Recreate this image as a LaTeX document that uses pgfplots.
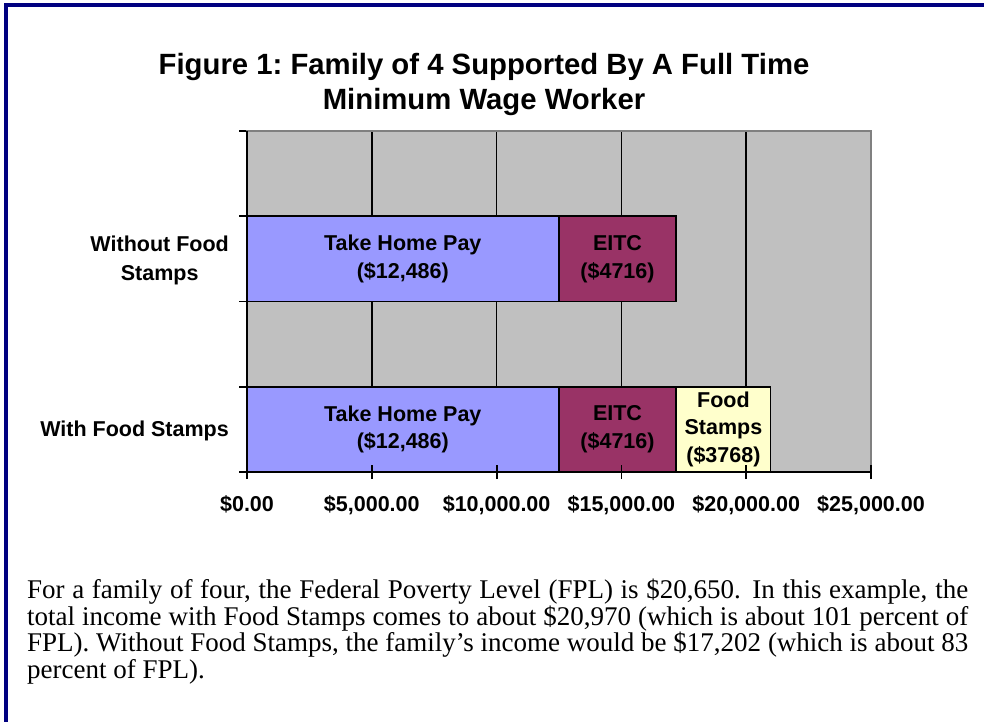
\documentclass[border=0pt]{standalone}
\usepackage{pgfplots}
\pgfplotsset{compat=1.18}
\usepackage{fontspec}
\setmainfont{Liberation Serif}
\newfontfamily\arial{Liberation Sans}
\definecolor{plotgray}{HTML}{C0C0C0}
\definecolor{bordergray}{HTML}{808080}
\definecolor{thp}{HTML}{9999FF}
\definecolor{eitc}{HTML}{993366}
\definecolor{fs}{HTML}{FFFFCC}
\definecolor{navyb}{HTML}{000080}
\begin{document}
\begin{tikzpicture}[x=1pt,y=1pt]
\path[use as bounding box] (0,0) rectangle (984,721);
\draw[navyb, line width=4pt] (5.7,-10) -- (5.7,715.7) -- (1000,715.7);
% title
\node[anchor=base, inner sep=0pt, font=\arial\bfseries\fontsize{29.3}{34}\selectfont\frenchspacing] at (484,721-75) {Figure 1: Family of 4 Supported By A Full Time};
\node[anchor=base, inner sep=0pt, font=\arial\bfseries\fontsize{29.3}{34}\selectfont] at (484,721-110) {Minimum Wage Worker};
% background axis: plot area, grid, category labels and boundary ticks
\begin{axis}[
  at={(247pt,249pt)}, anchor=south west, scale only axis,
  width=624pt, height=341pt,
  xmin=0, xmax=25000, ymin=-0.25, ymax=1.75,
  scaled x ticks=false, scaled y ticks=false,
  axis background/.style={fill=plotgray},
  axis line style={draw=bordergray, line width=1.8pt},
  xtick={5000,10000,15000,20000}, xmajorticks=false,
  ytick={0,1},
  yticklabels={With Food Stamps,{Without Food\\Stamps}},
  yticklabel style={font=\arial\bfseries\fontsize{21.5}{29}\selectfont, align=center, inner sep=0pt, anchor=east, xshift=-18pt, yshift=-2pt},
  minor ytick={-0.25,0.25,0.75,1.25,1.75},
  ytick pos=left, tick align=outside, major tick length=0pt, minor tick length=8pt,
  tick style={black, line width=1.8pt},
  xmajorgrids, grid style={black, line width=1.6pt},
]
\addplot[draw=none] coordinates {(0,0)};
\end{axis}
% foreground axis: bars
\begin{axis}[
  at={(247pt,249pt)}, anchor=south west, scale only axis,
  width=624pt, height=341pt,
  xmin=0, xmax=25000, ymin=-0.25, ymax=1.75,
  scaled x ticks=false,
  enlargelimits=false,
  xbar stacked, bar width=0.5,
  axis on top,
  axis x line*=bottom, axis y line*=left,
  axis line style={black, line width=1.8pt, -},
  tick style={black, line width=1.8pt},
  tick align=center, major tick length=14pt,
  xtick={0,5000,10000,15000,20000,25000},
  xticklabels={\$0.00,{\$5,000.00},{\$10,000.00},{\$15,000.00},{\$20,000.00},{\$25,000.00}},
  xticklabel style={font=\arial\bfseries\fontsize{21.5}{27}\selectfont, inner sep=0pt, anchor=base, yshift=-32pt},
  ytick=\empty,
]
\addplot[fill=thp, draw=black, line width=1.8pt] coordinates {(12486,0) (12486,1)};
\addplot[fill=eitc, draw=black, line width=1.8pt] coordinates {(4716,0) (4716,1)};
\addplot[fill=fs, draw=black, line width=1.8pt] coordinates {(3768,0)};
\end{axis}
% segment labels (centred in each segment)
\begin{scope}[every node/.style={font=\arial\bfseries\fontsize{21.5}{27.5}\selectfont, align=center, inner sep=0pt}]
\node at (402.8,462) {Take Home Pay\\(\$12,486)};
\node at (402.8,291.6) {Take Home Pay\\(\$12,486)};
\node at (617.5,462) {EITC\\(\$4716)};
\node at (617.5,291.6) {EITC\\(\$4716)};
\node at (723.4,291.6) {Food\\Stamps\\(\$3768)};
\end{scope}
% paragraph, one justified line per node
\begin{scope}[every node/.style={anchor=base west, inner sep=0pt, font=\fontsize{27}{27}\selectfont}]
\node at (27,721-598.3) {\makebox[941pt][s]{For a family of four, the Federal Poverty Level (FPL) is \$20,650.  In this example, the}};
\node at (27,721-625.0) {\makebox[941pt][s]{total income with Food Stamps comes to about \$20,970 (which is about 101 percent of}};
\node at (27,721-651.7) {\makebox[941pt][s]{FPL).  Without Food Stamps, the family’s income would be \$17,202 (which is about 83}};
\node at (27,721-678.3) {percent of FPL).};
\end{scope}
\end{tikzpicture}
\end{document}
